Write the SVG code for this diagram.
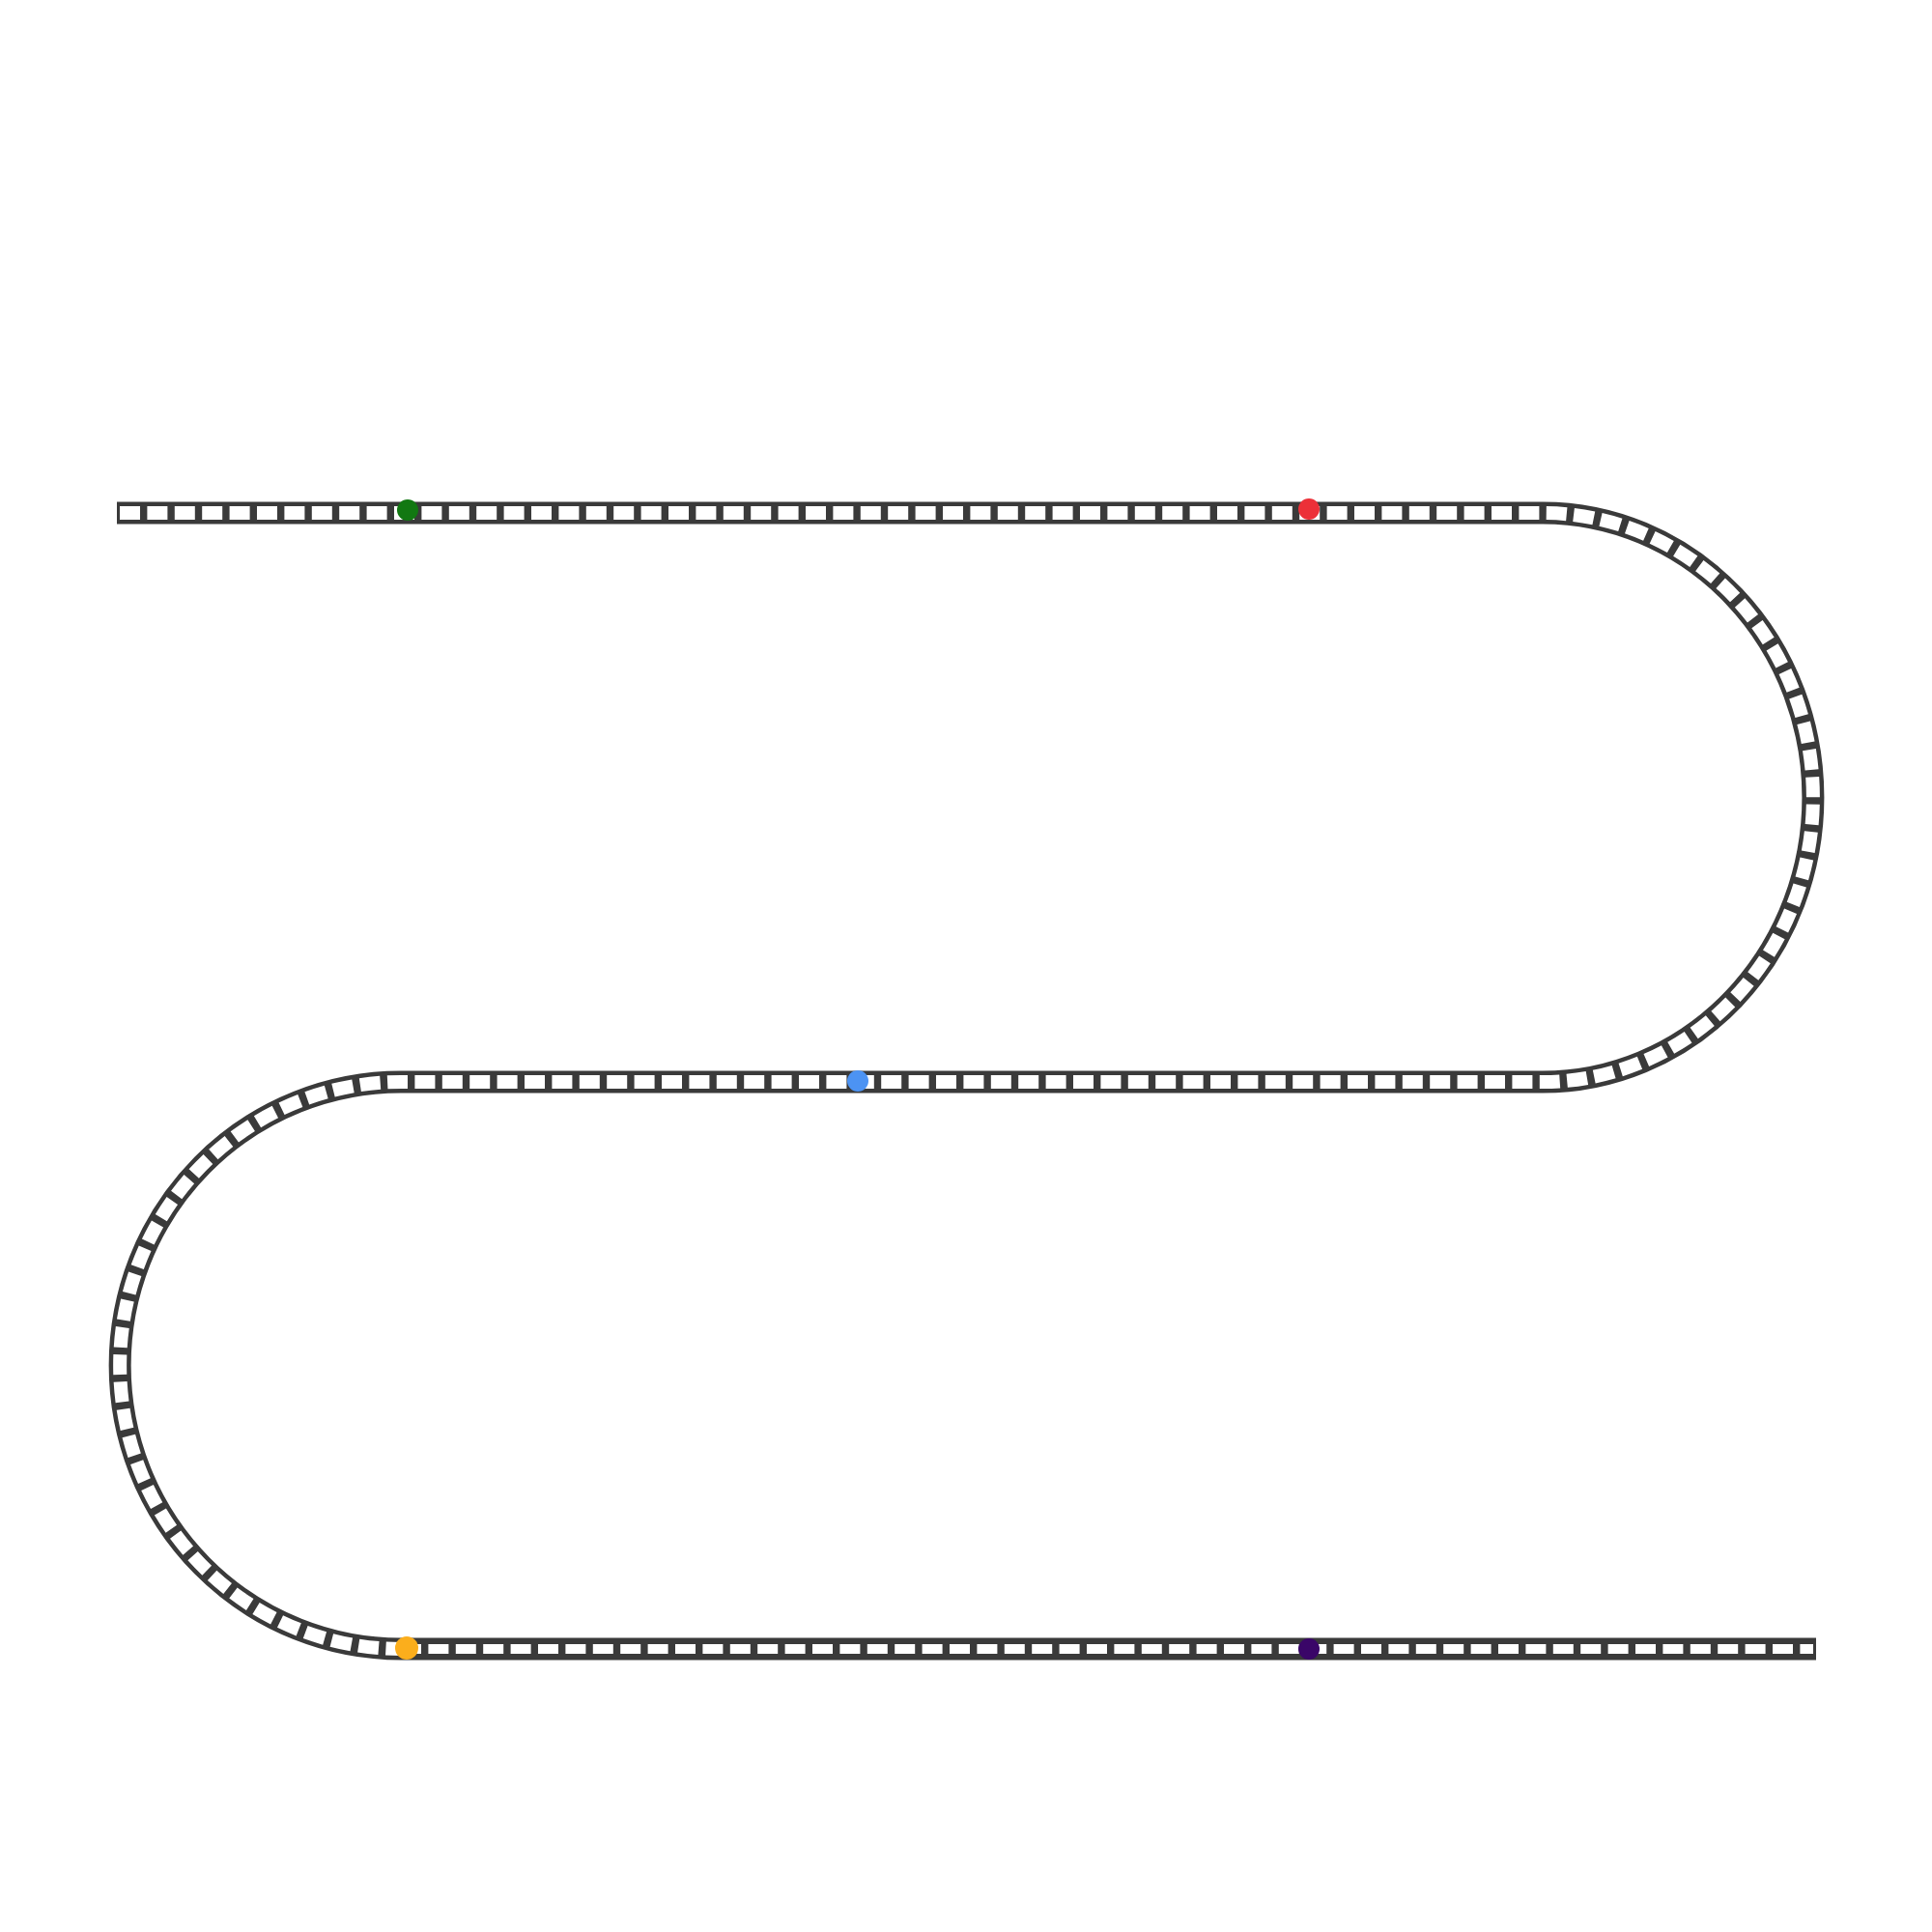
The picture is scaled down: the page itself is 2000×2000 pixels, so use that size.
<svg xmlns="http://www.w3.org/2000/svg" width="2000" height="2000" viewBox="0 0 2000 2000">
<style>
.rail{fill:none;stroke:#3a3a3a;stroke-width:23;stroke-linejoin:round}
.ties{fill:none;stroke:#ffffff;stroke-width:14;stroke-dasharray:21 7.4}
.ties2{fill:none;stroke:#ffffff;stroke-width:10;stroke-dasharray:21 7.4}
</style>
<rect width="2000" height="2000" fill="#ffffff"/>
<g id="connectors">
<path class="rail" d="M121,531 H1597 A280 294.5 0 0 1 1597,1120 H415 A291 293.5 0 0 0 415,1707 H1880"/>
<path class="ties" d="M124,531 H1597 A280 294.5 0 0 1 1597,1120 H415 A291 293.5 0 0 0 415,1707"/>
<path class="ties2" d="M415,1707 H1877"/>
</g>
<g id="node-green"><circle cx="422" cy="528" r="11" fill="#127812"/></g>
<g id="node-red"><circle cx="1355" cy="527" r="11" fill="#ec3038"/></g>
<g id="node-blue"><circle cx="888" cy="1119" r="11" fill="#4c93f3"/></g>
<g id="node-orange"><circle cx="421" cy="1706" r="12" fill="#fbae1c"/></g>
<g id="node-purple"><circle cx="1355" cy="1707" r="11" fill="#3a0668"/></g>
</svg>
